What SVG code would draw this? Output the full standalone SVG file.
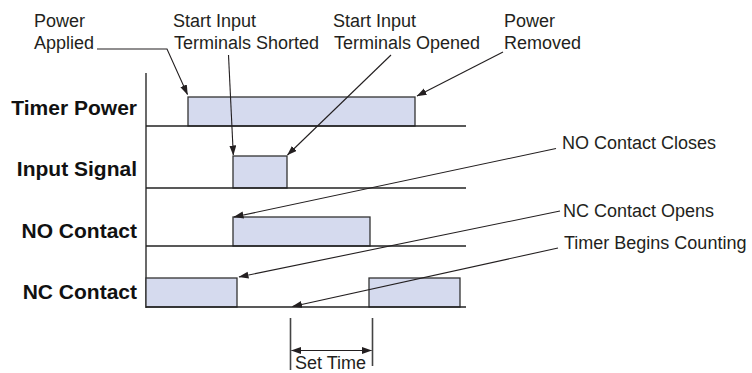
<svg xmlns="http://www.w3.org/2000/svg" width="752" height="373" viewBox="0 0 752 373">
<style>
.lbl{font-family:"Liberation Sans",Arial,Helvetica,sans-serif;font-size:18px;fill:#231f20}
.row{font-family:"Liberation Sans",Arial,Helvetica,sans-serif;font-size:21px;font-weight:bold;fill:#111;text-anchor:end}
.sig{fill:#d5daee;stroke:#333;stroke-width:1.3}
.base{stroke:#222;stroke-width:1.5;fill:none}
.axis{stroke:#444;stroke-width:1.6;fill:none}
.conn{stroke:#231f20;stroke-width:1.1;fill:none;marker-end:url(#ah)}
</style>
<defs>
<marker id="ah" markerUnits="userSpaceOnUse" markerWidth="10" markerHeight="8" refX="9.5" refY="3.5" orient="auto-start-reverse">
<path d="M0,0 L10,3.5 L0,7 z" fill="#231f20"/>
</marker>
</defs>
<rect width="752" height="373" fill="#fff"/>

<g id="axis">
<line class="axis" x1="146" y1="73" x2="146" y2="308"/>
</g>

<g id="timer-power">
<text class="row" x="137" y="115">Timer Power</text>
<rect class="sig" x="188" y="97" width="227" height="29"/>
<line class="base" x1="146" y1="126" x2="466" y2="126"/>
</g>

<g id="input-signal">
<text class="row" x="137" y="176">Input Signal</text>
<rect class="sig" x="233" y="156" width="54" height="32"/>
<line class="base" x1="146" y1="188" x2="466" y2="188"/>
</g>

<g id="no-contact">
<text class="row" x="137" y="238">NO Contact</text>
<rect class="sig" x="233" y="217" width="137" height="29"/>
<line class="base" x1="146" y1="246" x2="466" y2="246"/>
</g>

<g id="nc-contact">
<text class="row" x="137" y="299">NC Contact</text>
<rect class="sig" x="146" y="278" width="91" height="29"/>
<rect class="sig" x="369" y="278" width="91" height="29"/>
<line class="base" x1="146" y1="307" x2="466" y2="307"/>
</g>

<g id="label-power-applied">
<text class="lbl" x="34" y="27">Power</text>
<text class="lbl" x="34" y="49">Applied</text>
</g>
<g id="label-shorted">
<text class="lbl" x="173" y="27">Start Input</text>
<text class="lbl" x="174" y="49">Terminals Shorted</text>
</g>
<g id="label-opened">
<text class="lbl" x="333" y="27">Start Input</text>
<text class="lbl" x="334" y="49">Terminals Opened</text>
</g>
<g id="label-power-removed">
<text class="lbl" x="504" y="27">Power</text>
<text class="lbl" x="504" y="49">Removed</text>
</g>
<g id="label-no-closes">
<text class="lbl" x="562" y="149">NO Contact Closes</text>
</g>
<g id="label-nc-opens">
<text class="lbl" x="563" y="217">NC Contact Opens</text>
</g>
<g id="label-timer-begins">
<text class="lbl" x="564" y="249">Timer Begins Counting</text>
</g>

<g id="set-time">
<line class="axis" x1="290.5" y1="318" x2="290.5" y2="370"/>
<line class="axis" x1="372.5" y1="318" x2="372.5" y2="366"/>
<line stroke="#231f20" stroke-width="1.1" x1="291.5" y1="350.5" x2="371.5" y2="350.5" marker-start="url(#ah)" marker-end="url(#ah)"/>
<text class="lbl" x="295" y="368.5">Set Time</text>
</g>

<g id="connectors">
<path class="conn" d="M97,49 H167 L187.5,94.5"/>
<path class="conn" d="M228.5,55 L233.3,155"/>
<path class="conn" d="M391,55 L287.5,155"/>
<path class="conn" d="M503,52 L417,96"/>
<path class="conn" d="M556,148.5 L234,217"/>
<path class="conn" d="M560,211 L239,277"/>
<path class="conn" d="M558,248 L292.5,306.5"/>
</g>
</svg>
